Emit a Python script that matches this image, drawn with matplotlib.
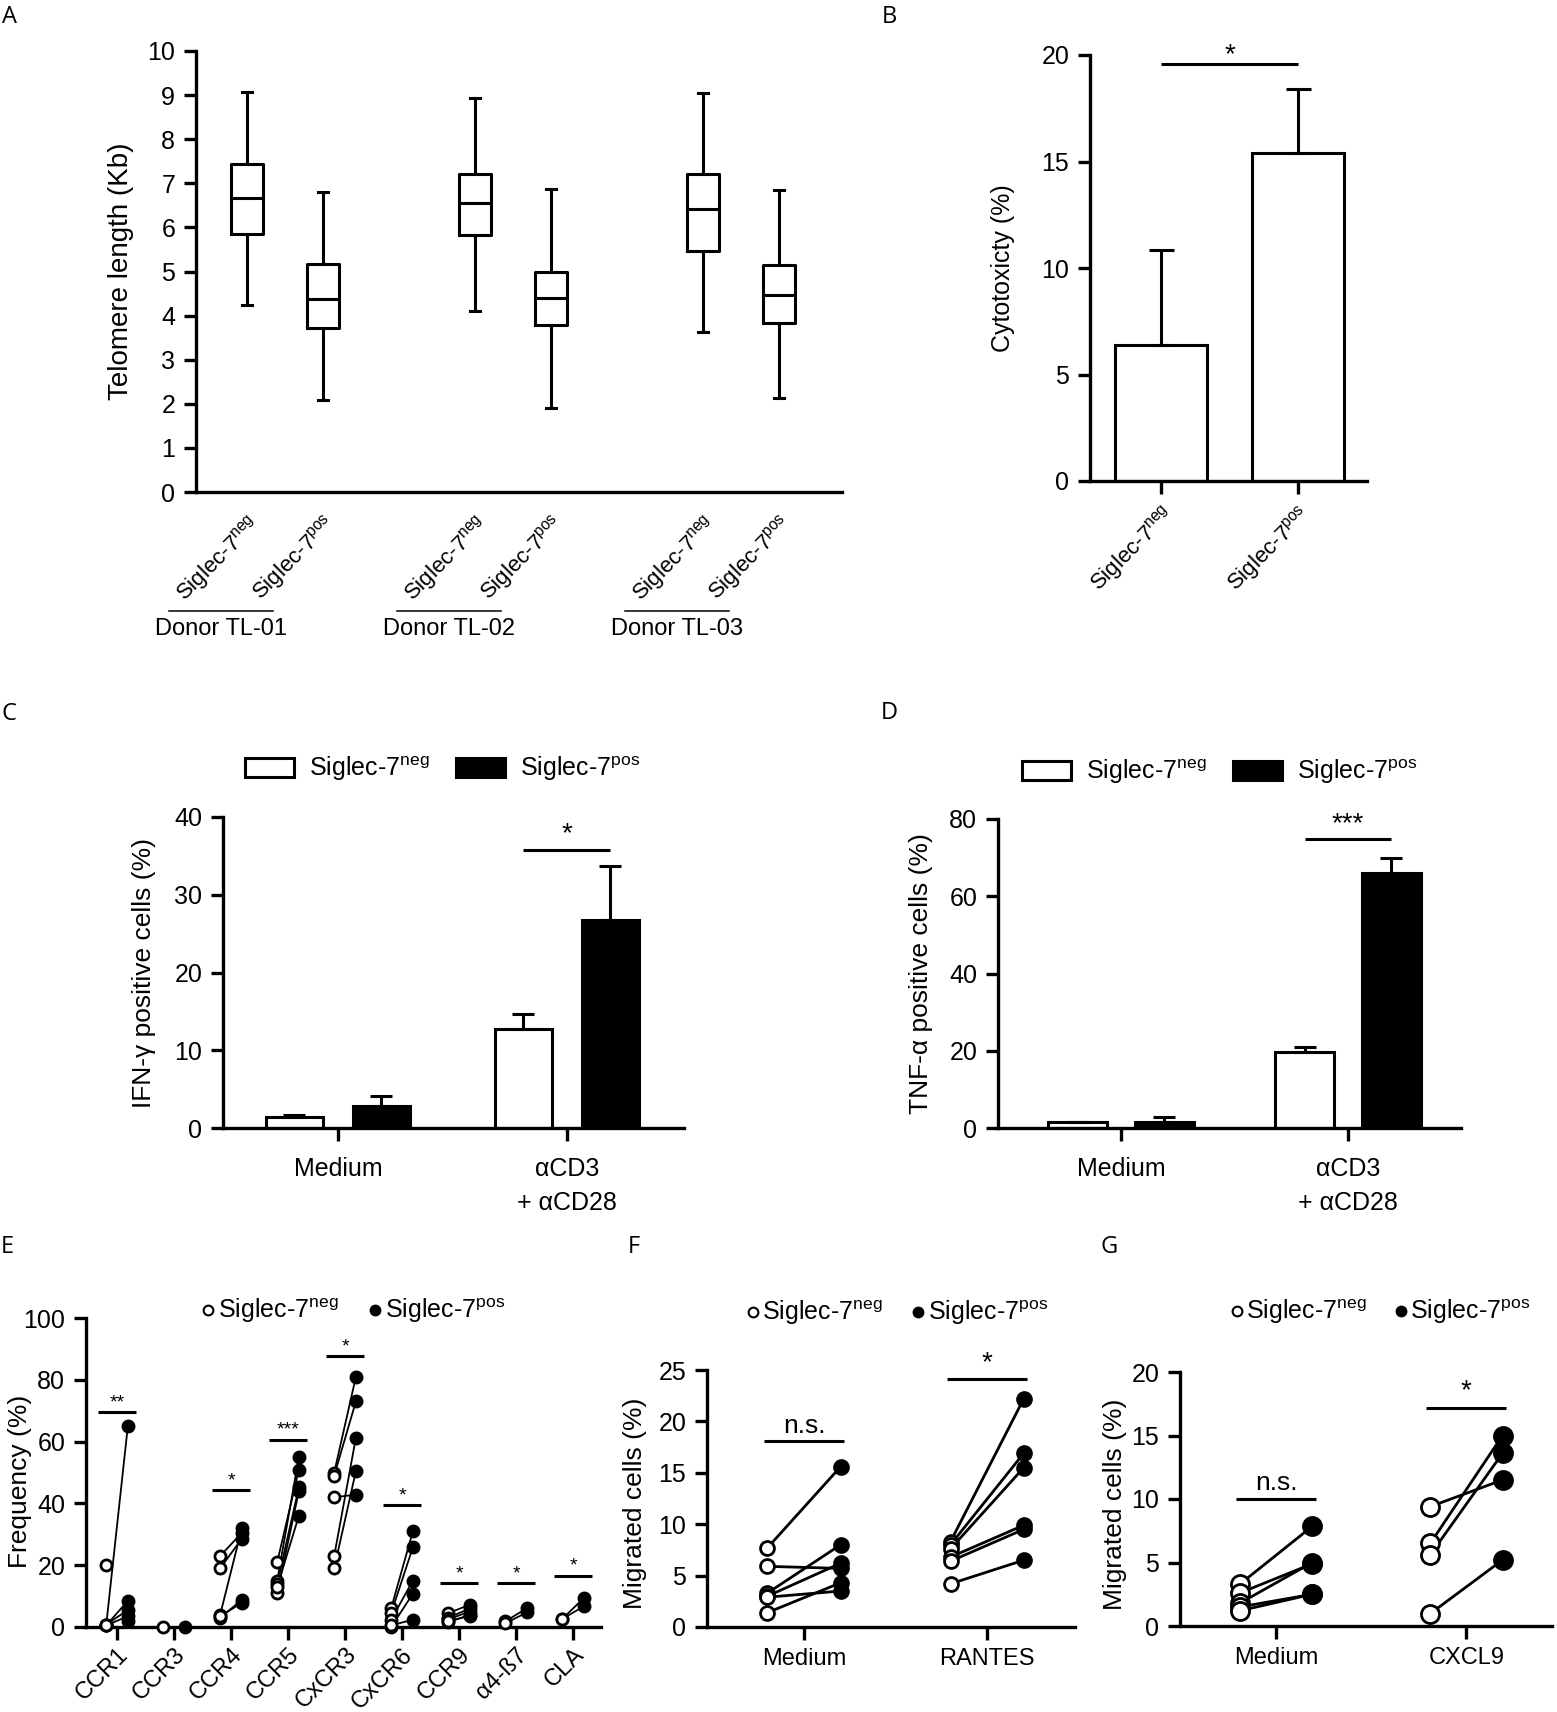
import numpy as np
import matplotlib
matplotlib.use('Agg')
import matplotlib.pyplot as plt
from matplotlib.lines import Line2D
from matplotlib.patches import Patch

plt.rcParams['font.family'] = ['Liberation Sans', 'DejaVu Sans']
plt.rcParams['mathtext.default'] = 'regular'
plt.rcParams['axes.linewidth'] = 2.4

# --- data -------------------------------------------------------------------
neg_lbl = 'Siglec-7$^{neg}$'
pos_lbl = 'Siglec-7$^{pos}$'

# A: telomere length box plots (Kb)
donors = ['Donor TL-01', 'Donor TL-02', 'Donor TL-03']
tl_whislo = [4.23, 2.09, 4.10, 1.90, 3.63, 2.14]
tl_q1 = [5.86, 3.71, 5.82, 3.78, 5.47, 3.83]
tl_med = [6.66, 4.37, 6.56, 4.41, 6.42, 4.46]
tl_q3 = [7.44, 5.16, 7.20, 5.00, 7.20, 5.15]
tl_whishi = [9.08, 6.81, 8.94, 6.88, 9.04, 6.85]

# B: cytotoxicity (%)
cyto_mean = [6.4, 15.4]
cyto_top = [10.85, 18.4]

# C / D: cytokine positive cells (%)
stim_groups = ['Medium', '\u03b1CD3\n+ \u03b1CD28']
ifn_neg = [1.47, 12.7]
ifn_neg_top = [1.7, 14.7]
ifn_pos = [2.84, 26.8]
ifn_pos_top = [4.13, 33.7]
tnf_neg = [1.57, 19.6]
tnf_neg_top = [1.57, 21.0]
tnf_pos = [1.57, 66.0]
tnf_pos_top = [2.8, 70.0]

# E: chemokine receptor frequency (%), paired donors (nan = no partner)
receptors = ['CCR1', 'CCR3', 'CCR4', 'CCR5', 'CxCR3', 'CxCR6', 'CCR9', '\u03b14-\u00df7', 'CLA']
rec_neg = [
    [20, 0.5, 0.5, 0.8, 0.5, np.nan],
    [0],
    [23, 19, 4, 3, 3.5],
    [21, 15, 14, 11, 13],
    [50, 49, 42, 23, 19],
    [6.1, 4.5, 2.4, 0, 0.5],
    [4.5, 3, 2.5, 1.5, 2],
    [1.8, 1.2],
    [2.6, 2.6],
]
rec_pos = [
    [np.nan, 65, 8.5, 5.5, 3.5, 2],
    [0],
    [30.5, 28.6, 32, 8.8, 7.8],
    [50.9, 54.9, 45.2, 43.9, 36],
    [80.9, 73, 42.8, 61.2, 50.4],
    [31, 25.8, 15, 10.8, 2.4],
    [7.2, 6, 5, 4, 3.5],
    [6.1, 4.7],
    [9.4, 6.7],
]
rec_sig = ['**', '', '*', '***', '*', '*', '*', '*', '*']
rec_sig_y = [69.6, np.nan, 44.2, 60.6, 87.6, 39.4, 14.2, 14.2, 16.6]

# F: migration towards RANTES (%)
f_groups = ['Medium', 'RANTES']
f_neg = [[7.7, 5.9, 3.3, 3.0, 2.9, 1.4], [8.3, 8.0, 7.6, 6.8, 6.4, 4.2]]
f_pos = [[15.6, 5.7, 8.0, 6.2, 3.5, 4.3], [22.2, 16.9, 15.5, 9.9, 9.5, 6.5]]
f_sig = ['n.s.', '*']
f_sig_y = [18.1, 24.1]

# G: migration towards CXCL9 (%)
g_groups = ['Medium', 'CXCL9']
g_neg = [[3.3, 2.6, 1.8, 1.5, 1.2], [9.4, 6.5, 5.6, 0.97]]
g_pos = [[7.85, 4.9, 5.0, 2.5, 2.5], [11.5, 15.0, 13.6, 5.2]]
g_sig = ['n.s.', '*']
g_sig_y = [10.0, 17.2]

# --- figure -----------------------------------------------------------------
W, H = 1557, 1712
fig = plt.figure(figsize=(W / 100, H / 100), dpi=100)


def panel(left, right, top, bottom):
    # axes placed by pixel box of the plotting area
    ax = fig.add_axes([left / W, 1 - bottom / H, (right - left) / W, (bottom - top) / H])
    ax.spines['top'].set_visible(False)
    ax.spines['right'].set_visible(False)
    ax.tick_params(width=2.4, length=9, labelsize=18, direction='out', pad=6)
    return ax


def sig_bar(ax, x1, x2, y, label, size, dy):
    ax.plot([x1, x2], [y, y], color='black', lw=2.2, solid_capstyle='butt', clip_on=False)
    ax.text((x1 + x2) / 2, y + dy, label, ha='center', va='bottom', fontsize=size)


def letter(x, y, s):
    fig.text(x / W, 1 - y / H, s, fontsize=17, family=['Open Sans', 'DejaVu Sans'], va='center', ha='center')


# ---- A ----
axA = panel(196, 842, 51, 492)
posA = [0, 1, 3, 4, 6, 7]
stats = []
for i in range(6):
    stats.append(dict(whislo=tl_whislo[i], q1=tl_q1[i], med=tl_med[i], q3=tl_q3[i],
                      whishi=tl_whishi[i], fliers=[]))
lp = dict(color='black', linewidth=2.2)
axA.bxp(stats, positions=posA, widths=0.41, capwidths=0.14, showfliers=False,
        boxprops=lp, whiskerprops=lp, capprops=lp, medianprops=lp)
axA.set_xlim(-0.67, 7.83)
axA.set_ylim(0, 10)
axA.set_yticks(range(0, 11))
axA.set_ylabel('Telomere length (Kb)', fontsize=20)
axA.yaxis.set_label_coords(-0.096, 0.5)
axA.set_xticks(posA)
axA.set_xticklabels([neg_lbl, pos_lbl] * 3, rotation=45, ha='right', rotation_mode='anchor', fontsize=16)
axA.tick_params(axis='x', length=0, pad=14)
for k, name in enumerate(donors):
    cx = (posA[2 * k] + posA[2 * k + 1]) / 2 - 0.84
    axA.plot([cx - 0.68, cx + 0.68], [-0.27, -0.27], transform=axA.get_xaxis_transform(),
             color='black', lw=1.1, clip_on=False)
    axA.text(cx, -0.31, name, transform=axA.get_xaxis_transform(), ha='center', va='center', fontsize=17)
letter(9, 17, 'A')

# ---- B ----
axB = panel(1090, 1367, 55, 481)
xb = np.arange(2)
axB.bar(xb, cyto_mean, 0.67, color='white', edgecolor='black', linewidth=2.2,
        yerr=[np.zeros(2), np.array(cyto_top) - np.array(cyto_mean)], capsize=9,
        error_kw=dict(elinewidth=2.2, capthick=2.2))
axB.set_xlim(-0.518, 1.504)
axB.set_ylim(0, 20)
axB.set_yticks([0, 5, 10, 15, 20])
axB.set_ylabel('Cytotoxicty (%)', fontsize=18)
axB.yaxis.set_label_coords(-0.27, 0.5)
axB.set_xticks(xb)
axB.set_xticklabels([neg_lbl, pos_lbl], rotation=45, ha='right', rotation_mode='anchor', fontsize=16)
sig_bar(axB, 0, 1, 19.57, '*', 20, -0.2)
letter(889, 17, 'B')

# ---- C & D ----
def cyto_panel(ax, neg, neg_top, pos, pos_top, w):
    xg = np.arange(2)
    ax.bar(xg - 0.19, neg, w, color='white', edgecolor='black', linewidth=2.2,
           yerr=[np.zeros(2), np.array(neg_top) - np.array(neg)], capsize=8,
           error_kw=dict(elinewidth=2.2, capthick=2.2))
    ax.bar(xg + 0.19, pos, w, color='black', edgecolor='black', linewidth=2.2,
           yerr=[np.zeros(2), np.array(pos_top) - np.array(pos)], capsize=8,
           error_kw=dict(elinewidth=2.2, capthick=2.2))
    ax.set_xticks(xg)
    ax.set_xticklabels(stim_groups, fontsize=18, linespacing=1.5)
    ax.tick_params(axis='x', pad=12)


def bar_legend(ax, x, y):
    hs = [Patch(facecolor='white', edgecolor='black', linewidth=2.2),
          Patch(facecolor='black', edgecolor='black', linewidth=2.2)]
    ax.legend(hs, [neg_lbl, pos_lbl], loc='center left', bbox_to_anchor=(x / W, 1 - y / H),
              bbox_transform=fig.transFigure, ncol=2, frameon=False, fontsize=18,
              handlelength=1.95, handleheight=0.8, handletextpad=0.62, columnspacing=1.05,
              borderpad=0, borderaxespad=0)


axC = panel(223, 684, 817, 1128)
cyto_panel(axC, ifn_neg, ifn_neg_top, ifn_pos, ifn_pos_top, 0.245)
axC.set_xlim(-0.502, 1.511)
axC.set_ylim(0, 40)
axC.set_yticks([0, 10, 20, 30, 40])
axC.set_ylabel('IFN-\u03b3 positive cells (%)', fontsize=19)
axC.yaxis.set_label_coords(-0.145, 0.5)
sig_bar(axC, 1 - 0.19, 1 + 0.19, 35.8, '*', 20, 0.3)
bar_legend(axC, 245, 769)
letter(9, 714, 'C')

axD = panel(998, 1461, 819, 1128)
cyto_panel(axD, tnf_neg, tnf_neg_top, tnf_pos, tnf_pos_top, 0.26)
axD.set_xlim(-0.542, 1.498)
axD.set_ylim(0, 80)
axD.set_yticks([0, 20, 40, 60, 80])
axD.set_ylabel('TNF-\u03b1 positive cells (%)', fontsize=19)
axD.yaxis.set_label_coords(-0.14, 0.5)
sig_bar(axD, 1 - 0.19, 1 + 0.19, 74.7, '***', 20, 0.5)
bar_legend(axD, 1022, 772)
letter(889, 713, 'D')

# ---- E, F, G : paired dot plots ----
def paired(ax, negs, poss, off, ms, lw):
    for i, (nv, pv) in enumerate(zip(negs, poss)):
        for a, b in zip(nv, pv):
            if not (np.isnan(a) or np.isnan(b)):
                ax.plot([i - off, i + off], [a, b], color='black', lw=lw, zorder=2)
        ax.plot(np.full(len(nv), i - off), nv, 'o', ls='none', ms=ms, mfc='white',
                mec='black', mew=2, zorder=3, clip_on=False)
        ax.plot(np.full(len(pv), i + off), pv, 'o', ls='none', ms=ms, mfc='black',
                mec='black', mew=2, zorder=3, clip_on=False)


def dot_legend(ax, x, y, space):
    hs = [Line2D([], [], marker='o', ls='none', ms=7, mfc='white', mec='black', mew=1.5),
          Line2D([], [], marker='o', ls='none', ms=7, mfc='black', mec='black', mew=1.5)]
    ax.legend(hs, [neg_lbl, pos_lbl], loc='center left', bbox_to_anchor=(x / W, 1 - y / H),
              bbox_transform=fig.transFigure, ncol=2, frameon=False, fontsize=18,
              handlelength=0.5, handletextpad=0.12, columnspacing=space,
              borderpad=0, borderaxespad=0)


axE = panel(86, 601, 1318, 1627)
paired(axE, rec_neg, rec_pos, 0.19, 8, 1.3)
axE.set_xlim(-0.544, 8.49)
axE.set_ylim(0, 100)
axE.set_yticks([0, 20, 40, 60, 80, 100])
axE.set_ylabel('Frequency (%)', fontsize=19)
axE.yaxis.set_label_coords(-0.105, 0.47)
axE.set_xticks(range(len(receptors)))
axE.set_xticklabels(receptors, rotation=45, ha='right', rotation_mode='anchor', fontsize=17)
axE.tick_params(axis='x', pad=3)
for i, s in enumerate(rec_sig):
    if s:
        sig_bar(axE, i - 0.33, i + 0.33, rec_sig_y[i], s, 14, 0.3)
dot_legend(axE, 202, 1311, 1.24)
letter(7, 1247, 'E')

axF = panel(707, 1075, 1370, 1627)
paired(axF, f_neg, f_pos, 0.2, 10, 2)
axF.set_xlim(-0.53, 1.48)
axF.set_ylim(0, 25)
axF.set_yticks([0, 5, 10, 15, 20, 25])
axF.set_ylabel('Migrated cells (%)', fontsize=19)
axF.yaxis.set_label_coords(-0.163, 0.48)
axF.set_xticks([0, 1])
axF.set_xticklabels(f_groups, fontsize=17)
for i in range(2):
    sig_bar(axF, i - 0.22, i + 0.22, f_sig_y[i], f_sig[i], 19 if f_sig[i] != '*' else 20, 0.3)
dot_legend(axF, 747, 1313, 1.16)
letter(634, 1247, 'F')

axG = panel(1180, 1552, 1372, 1626)
paired(axG, g_neg, g_pos, 0.19, 13, 2)
axG.set_xlim(-0.505, 1.45)
axG.set_ylim(0, 20)
axG.set_yticks([0, 5, 10, 15, 20])
axG.set_ylabel('Migrated cells (%)', fontsize=19)
axG.yaxis.set_label_coords(-0.142, 0.48)
axG.set_xticks([0, 1])
axG.set_xticklabels(g_groups, fontsize=17)
for i in range(2):
    sig_bar(axG, i - 0.21, i + 0.21, g_sig_y[i], g_sig[i], 19 if g_sig[i] != '*' else 20, 0.3)
dot_legend(axG, 1231, 1312, 1.1)
letter(1109, 1247, 'G')

fig.savefig('out.png', dpi=100, facecolor='white')
